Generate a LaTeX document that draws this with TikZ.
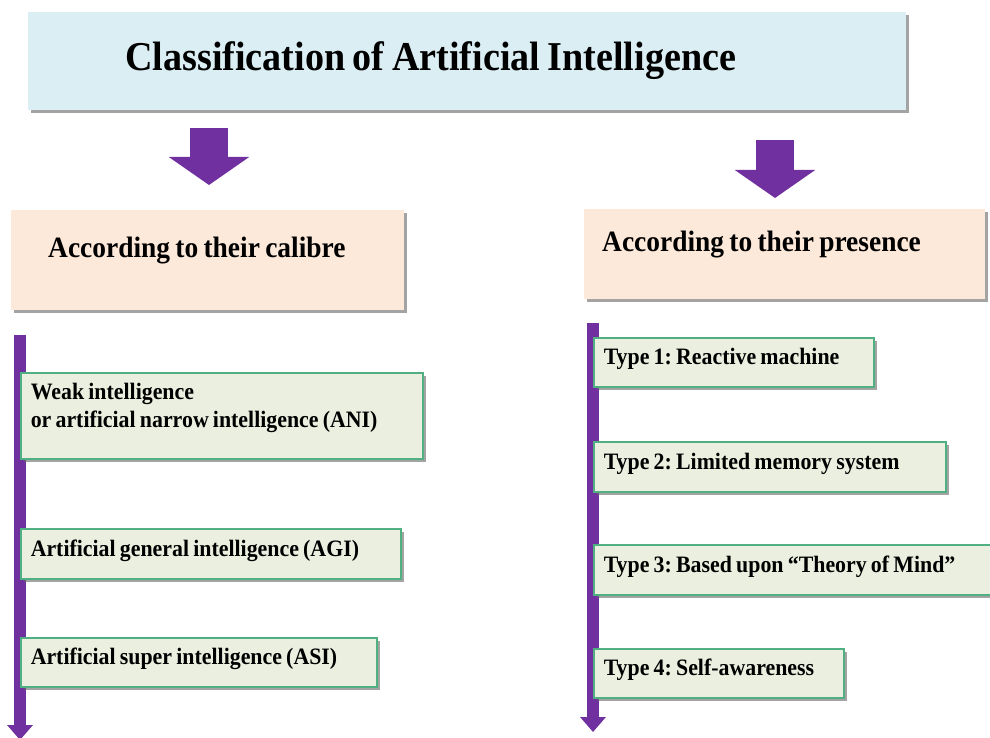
\documentclass[tikz,border=0pt]{standalone}
\usepackage{fontspec}
\setmainfont{Liberation Serif}[FakeStretch=0.93]
\usepackage{tikz}
\usetikzlibrary{arrows.meta,shadows}
\frenchspacing

\definecolor{aiblue}{HTML}{DAEEF3}
\definecolor{aipeach}{HTML}{FDE9D9}
\definecolor{aiolive}{HTML}{EAEFDF}
\definecolor{aigreen}{RGB}{80,176,130}
\definecolor{aipurple}{HTML}{7030A0}

\tikzset{
  shadowed/.style={drop shadow={shadow xshift=3pt, shadow yshift=-3pt, fill=black!60, opacity=0.6},
    align=left, execute at begin node={\spaceskip=.18em\relax}},
  headbox/.style={shadowed, fill=aiblue, anchor=north west, inner ysep=0pt,
    font=\bfseries\fontsize{41}{44}\selectfont, text height=28pt, text depth=10pt},
  catbox/.style={shadowed, fill=aipeach, anchor=north west, inner ysep=0pt,
    font=\bfseries\fontsize{29.5}{32}\selectfont, text height=20pt, text depth=25pt},
  itembox/.style={shadowed, draw=aigreen, line width=1.5pt, fill=aiolive, anchor=north west,
    inner xsep=10pt, inner ysep=0pt, font=\bfseries\fontsize{23.5}{28}\selectfont},
  item/.style={itembox, text height=16pt, text depth=11pt},
  blockarrow/.style={draw=aipurple, line width=38pt, -{Triangle[length=28pt,width=79pt]}},
  timeline/.style={draw=aipurple, line width=12pt, -{Triangle[length=15pt,width=25pt]}}
}

\begin{document}
\begin{tikzpicture}[x=1pt,y=-1pt]
\useasboundingbox (0,0) rectangle (990,738);
% heading
\node[headbox, inner xsep=97pt, text width=684pt, minimum height=98pt] (title) at (28,12)
  {Classification of Artificial Intelligence};
\coordinate (arrLa) at (209,128); \coordinate (arrLb) at (209,185);
\coordinate (arrRa) at (775,140); \coordinate (arrRb) at (775,198);
\draw[blockarrow] (arrLa)--(arrLb);
\draw[blockarrow] (arrRa)--(arrRb);
\node[catbox, inner xsep=37pt, text width=319pt, minimum height=100pt] (calibre) at (11,210)
  {According to their calibre};
\node[catbox, inner xsep=18pt, text width=365pt, minimum height=90pt] (presence) at (584,209)
  {According to their presence};
% timelines
\coordinate (lineLa) at (20,335); \coordinate (lineLb) at (20,740);
\coordinate (lineRa) at (593,323); \coordinate (lineRb) at (593,732);
\draw[timeline] (lineLa)--(lineLb);
\draw[timeline] (lineRa)--(lineRb);
% left column
\node[itembox, text width=382pt, minimum height=86pt] (ani) at (20,372)
  {Weak intelligence\\or artificial narrow intelligence (ANI)\rule[-20pt]{0pt}{20pt}};
\node[item, text width=360pt, minimum height=50pt] (agi) at (20,528)
  {Artificial general intelligence (AGI)};
\node[item, text width=336pt, minimum height=49pt] (asi) at (20,637)
  {Artificial super intelligence (ASI)};
% right column
\node[item, text width=260pt, minimum height=49pt] (type1) at (593,337)
  {Type 1: Reactive machine};
\node[item, text width=332pt, minimum height=50pt] (type2) at (593,441)
  {Type 2: Limited memory system};
\node[item, text width=380pt, minimum height=50pt] (type3) at (593,544)
  {Type 3: Based upon “Theory of Mind”};
\node[item, text width=230pt, minimum height=49pt] (type4) at (593,648)
  {Type 4: Self-awareness};
\end{tikzpicture}
\end{document}
